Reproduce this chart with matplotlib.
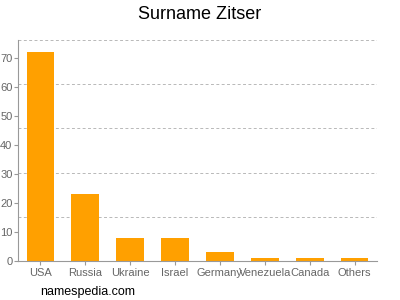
#!/usr/bin/env python

import numpy as np
import matplotlib
matplotlib.use('Agg')
import matplotlib.pyplot as plt

countries = ['USA', 'Russia', 'Ukraine', 'Israel', 'Germany', 'Venezuela', 'Canada', 'Others']
counts = [72, 23, 8, 8, 3, 1, 1, 1]
yticks = [0, 10, 20, 30, 40, 50, 60, 70]

plt.rcParams['font.family'] = ['Liberation Sans', 'DejaVu Sans']

fig = plt.figure(figsize=(4, 3), dpi=100)
ax = fig.add_axes([0.045, 0.13, 0.8975, 0.7367])

x = np.arange(len(countries))
ax.bar(x, counts, width=0.62, color='#ffa000', zorder=2)

ymax = 76.2
ax.set_ylim(0, ymax)
ax.set_xlim(-0.5, len(countries) - 0.5)

# grid lines split the range in fifths, not at the tick values
for k in range(1, 6):
	ax.axhline(ymax * k / 5., color='#b8b8b8', lw=0.7, ls=(0, (3, 2.5)), zorder=1)

ax.set_yticks(yticks)
ax.set_xticks(x)
ax.set_xticklabels(countries)
ax.tick_params(axis='both', colors='#999999', labelcolor='#666666', labelsize=8, length=3, width=0.8)
ax.tick_params(axis='x', pad=2)
ax.tick_params(axis='y', pad=1)

for s in ['top', 'right']:
	ax.spines[s].set_visible(False)
for s in ['left', 'bottom']:
	ax.spines[s].set_color('#999999')
	ax.spines[s].set_linewidth(0.8)

fig.text(0.5, 0.953, 'Surname Zitser', ha='center', va='center', fontsize=13, color='#000000')
fig.text(0.1, 0.027, 'namespedia.com', ha='left', va='center', fontsize=9, color='#000000')

fig.savefig('out.png', dpi=100)
